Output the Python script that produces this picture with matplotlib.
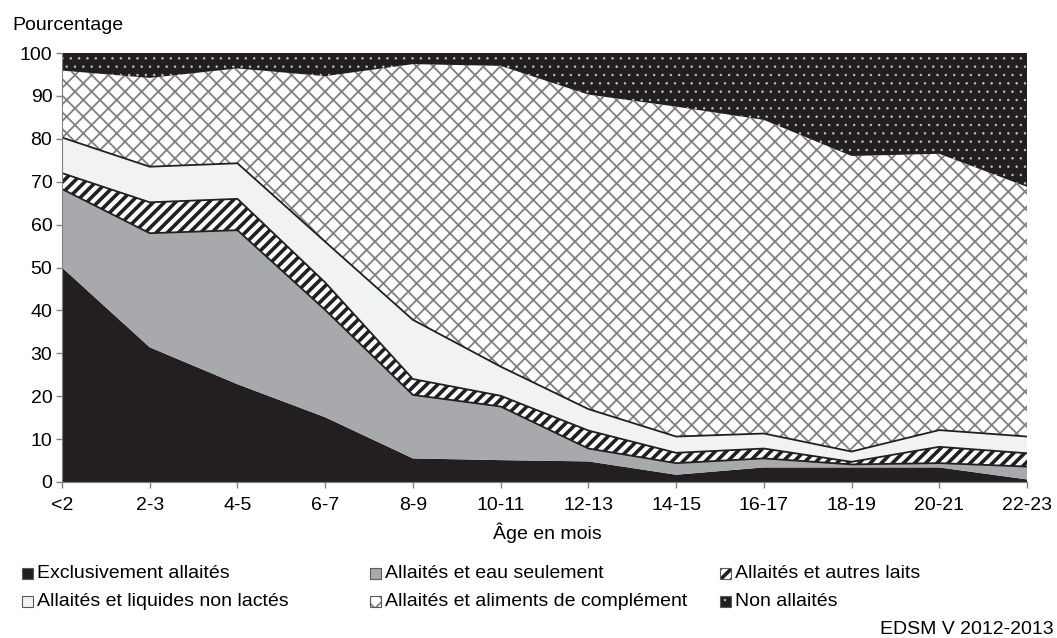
import matplotlib
matplotlib.use('Agg')
import matplotlib.pyplot as plt
from matplotlib.patches import Rectangle
import numpy as np

plt.rcParams['font.family'] = ['Liberation Sans', 'DejaVu Sans']

categories = ['<2', '2-3', '4-5', '6-7', '8-9', '10-11', '12-13', '14-15',
              '16-17', '18-19', '20-21', '22-23']
exclusif = [50.0, 31.4, 22.8, 15.1, 5.5, 5.1, 4.8, 1.7, 3.4, 3.4, 3.4, 0.6]
eau = [18.3, 26.6, 35.9, 25.0, 14.8, 12.5, 3.0, 2.7, 2.1, 0.7, 1.0, 3.0]
autres_laits = [3.7, 7.2, 7.3, 6.4, 3.7, 2.5, 4.2, 2.4, 2.3, 0.6, 3.8, 3.1]
liquides = [8.3, 8.3, 8.3, 9.5, 13.8, 6.8, 5.0, 3.8, 3.5, 2.4, 3.9, 3.9]
complement = [15.6, 20.7, 22.1, 38.6, 59.6, 70.1, 73.3, 76.9, 73.1, 68.9, 64.4, 58.2]
non_allaites = [4.1, 5.8, 3.6, 5.4, 2.6, 3.0, 9.7, 12.5, 15.6, 24.0, 23.5, 31.2]

labels = ['Exclusivement allaités', 'Allaités et eau seulement',
          'Allaités et autres laits', 'Allaités et liquides non lactés',
          'Allaités et aliments de complément', 'Non allaités']

BLACK = '#231f20'
GRAY = '#a7a9ac'
LIGHT = '#f1f2f2'
HATCHGRAY = '#808080'
FS = 14

W, H = 1057, 638
fig = plt.figure(figsize=(W / 100, H / 100), dpi=100)
ax = fig.add_axes([62 / W, 1 - 482 / H, (1027 - 62) / W, (482 - 53) / H])

x = np.arange(len(categories))
data = np.vstack([exclusif, eau, autres_laits, liquides, complement, non_allaites])
cum = np.vstack([np.zeros(len(categories)), np.cumsum(data, axis=0)])

styles = [
    dict(facecolor=BLACK, hatch=None, hc=None, hlw=1),
    dict(facecolor=GRAY, hatch=None, hc=None, hlw=1),
    dict(facecolor='white', hatch='///', hc=BLACK, hlw=2.6),
    dict(facecolor=LIGHT, hatch=None, hc=None, hlw=1),
    dict(facecolor='white', hatch='xx', hc=HATCHGRAY, hlw=1.3),
    dict(facecolor=BLACK, hatch='..', hc='#c8c8c8', hlw=0.5),
]


def apply_hatch(artist, st):
    if st['hatch']:
        artist.set_hatch(st['hatch'])
        try:
            artist.set_hatch_linewidth(st['hlw'])
        except Exception:
            pass
        try:
            artist._hatch_color = matplotlib.colors.to_rgba(st['hc'])
        except Exception:
            pass


for i, st in enumerate(styles):
    plt.rcParams['hatch.linewidth'] = st['hlw']
    if st['hc']:
        plt.rcParams['hatch.color'] = st['hc']
    coll = ax.fill_between(x, cum[i], cum[i + 1], facecolor=st['facecolor'],
                           edgecolor=st['hc'] if st['hc'] else 'none',
                           linewidth=0, zorder=2)
    apply_hatch(coll, st)

# boundary lines
for k in [2, 3, 4]:
    ax.plot(x, cum[k], color=BLACK, lw=1.3, zorder=3)

ax.set_xlim(0, len(categories) - 1)
ax.set_ylim(0, 100)
ax.set_yticks(np.arange(0, 101, 10))
ax.set_xticks(x)
ax.set_xticklabels(categories)
ax.tick_params(axis='both', labelsize=FS, colors='#808080', labelcolor='black',
               length=4, width=1, direction='out')
ax.tick_params(axis='y', pad=3)
ax.tick_params(axis='x', pad=7)
for s in ['top', 'right']:
    ax.spines[s].set_visible(False)
for s in ['left', 'bottom']:
    ax.spines[s].set_color('#808080')
    ax.spines[s].set_zorder(4)

fig.text(12 / W, 1 - 25 / H, 'Pourcentage', fontsize=FS, va='center', ha='left')
fig.text(547 / W, 1 - 533 / H, 'Âge en mois', fontsize=FS, va='center', ha='center')

# legend (manual, matching reference layout)
leg_pos = [(22, 573), (370, 573), (720, 573), (22, 601), (370, 601), (720, 601)]
sq = 11
for i, (px, py) in enumerate(leg_pos):
    st = styles[i]
    plt.rcParams['hatch.linewidth'] = st['hlw']
    if st['hc']:
        plt.rcParams['hatch.color'] = st['hc']
    r = Rectangle((px / W, 1 - (py + sq / 2) / H), sq / W, sq / H,
                  transform=fig.transFigure, facecolor=st['facecolor'],
                  edgecolor='#595959', linewidth=0.8)
    apply_hatch(r, st)
    fig.add_artist(r)
    fig.text((px + sq + 4) / W, 1 - py / H, labels[i], fontsize=FS,
             va='center', ha='left')

fig.text(1054 / W, 1 - 630 / H, 'EDSM V 2012-2013', fontsize=FS, va='center', ha='right')

fig.savefig('out.png', dpi=100)
